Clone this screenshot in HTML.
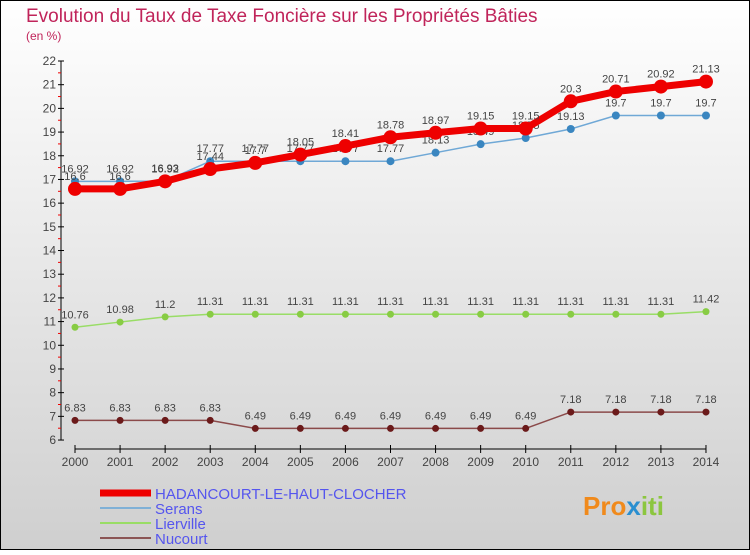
<!DOCTYPE html>
<html><head><meta charset="utf-8"><style>
body{margin:0}
svg text{font-family:"Liberation Sans",sans-serif}
</style></head><body>
<svg id="c" width="750" height="550" xmlns="http://www.w3.org/2000/svg">
<defs><linearGradient id="bg" x1="0" y1="0" x2="0" y2="1"><stop offset="0" stop-color="#ffffff"/><stop offset="1" stop-color="#cfcfcf"/></linearGradient></defs>
<rect x="0.5" y="0.5" width="749" height="549" fill="url(#bg)" stroke="#000"/>
<text x="26" y="22" font-size="19" fill="#c0245a">Evolution du Taux de Taxe Foncière sur les Propriétés Bâties</text>
<text x="26" y="40" font-size="12" fill="#c0245a">(en %)</text>
<g id="axes"></g><g id="series"></g><g id="legend"></g>
<text x="583" y="515" font-size="26" font-weight="bold" fill="#f08a1c">Pro<tspan fill="#2a8fd0">x</tspan><tspan fill="#8cc63f">iti</tspan></text>
</svg>
<script>
const years=[2000,2001,2002,2003,2004,2005,2006,2007,2008,2009,2010,2011,2012,2013,2014];
const yTicks=[6,7,8,9,10,11,12,13,14,15,16,17,18,19,20,21,22];
const hadancourt=[16.6,16.6,16.92,17.44,17.7,18.05,18.41,18.78,18.97,19.15,19.15,20.3,20.71,20.92,21.13];
const serans=[16.92,16.92,16.93,17.77,17.77,17.77,17.77,17.77,18.13,18.49,18.75,19.13,19.7,19.7,19.7];
const lierville=[10.76,10.98,11.2,11.31,11.31,11.31,11.31,11.31,11.31,11.31,11.31,11.31,11.31,11.31,11.42];
const nucourt=[6.83,6.83,6.83,6.83,6.49,6.49,6.49,6.49,6.49,6.49,6.49,7.18,7.18,7.18,7.18];
const NS="http://www.w3.org/2000/svg";
const X=i=>75+i*45.07, Y=v=>61+(22-v)*23.69;
function mk(t,a,p){const e=document.createElementNS(NS,t);for(const k in a)e.setAttribute(k,a[k]);p.appendChild(e);return e;}
const ax=document.getElementById('axes');
let l=mk('line',{x1:61,y1:61,x2:61,y2:440,stroke:'#000'},ax);


l=mk('line',{x1:75,y1:449,x2:706,y2:449,stroke:'#000'},ax);


yTicks.forEach(v=>{
  mk('line',{x1:58,y1:Y(v),x2:64,y2:Y(v),stroke:'#000'},ax);
  if(v<22)mk('line',{x1:58,y1:Y(v+0.5),x2:61,y2:Y(v+0.5),stroke:'#e00'},ax);
  const t=mk('text',{x:56,y:Y(v)+4,'font-size':12,fill:'#444','text-anchor':'end'},ax);t.textContent=v;
  
  
});
years.forEach((y,i)=>{
  mk('line',{x1:X(i),y1:445,x2:X(i),y2:453,stroke:'#000'},ax);
  const t=mk('text',{x:X(i),y:466,'font-size':12,fill:'#444','text-anchor':'middle'},ax);t.textContent=y;
  
  
});
const sg=document.getElementById('series');
function draw(data,color,w,r,name,dot){
  const g=mk('g',{},sg);
  
  
  mk('polyline',{points:data.map((v,i)=>X(i)+','+Y(v)).join(' '),fill:'none',stroke:color,'stroke-width':w,'stroke-linejoin':'round'},g);
  data.forEach((v,i)=>{
    const c=mk('circle',{cx:X(i),cy:Y(v),r:r,fill:dot},g);
    
    
    const t=mk('text',{x:X(i),y:Y(v)-9,'font-size':11,fill:'#444','text-anchor':'middle'},g);t.textContent=v;
    
    
  });
}
draw(nucourt,'#8b4a4a',1.5,3.5,'nucourt','#6b1a1a');
draw(lierville,'#99dd66',1.5,3.5,'lierville','#88cc44');
draw(serans,'#6fa8d6',1.5,4,'serans','#3a86c0');
draw(hadancourt,'#ee0000',7,7,'hadancourt','#ee0000');
const lg=document.getElementById('legend');
[['HADANCOURT-LE-HAUT-CLOCHER','#ee0000',7],['Serans','#7fb0d6',2],['Lierville','#99dd66',2],['Nucourt','#8b5555',2]].forEach((e,i)=>{
  const y=493+i*15;
  const g=mk('g',{},lg);
  
  
  mk('line',{x1:100,y1:y,x2:151,y2:y,stroke:e[1],'stroke-width':e[2]},g);
  const t=mk('text',{x:155,y:y+6,'font-size':15,fill:'#5555ee'},g);t.textContent=e[0];
});
</script>
</body></html>
